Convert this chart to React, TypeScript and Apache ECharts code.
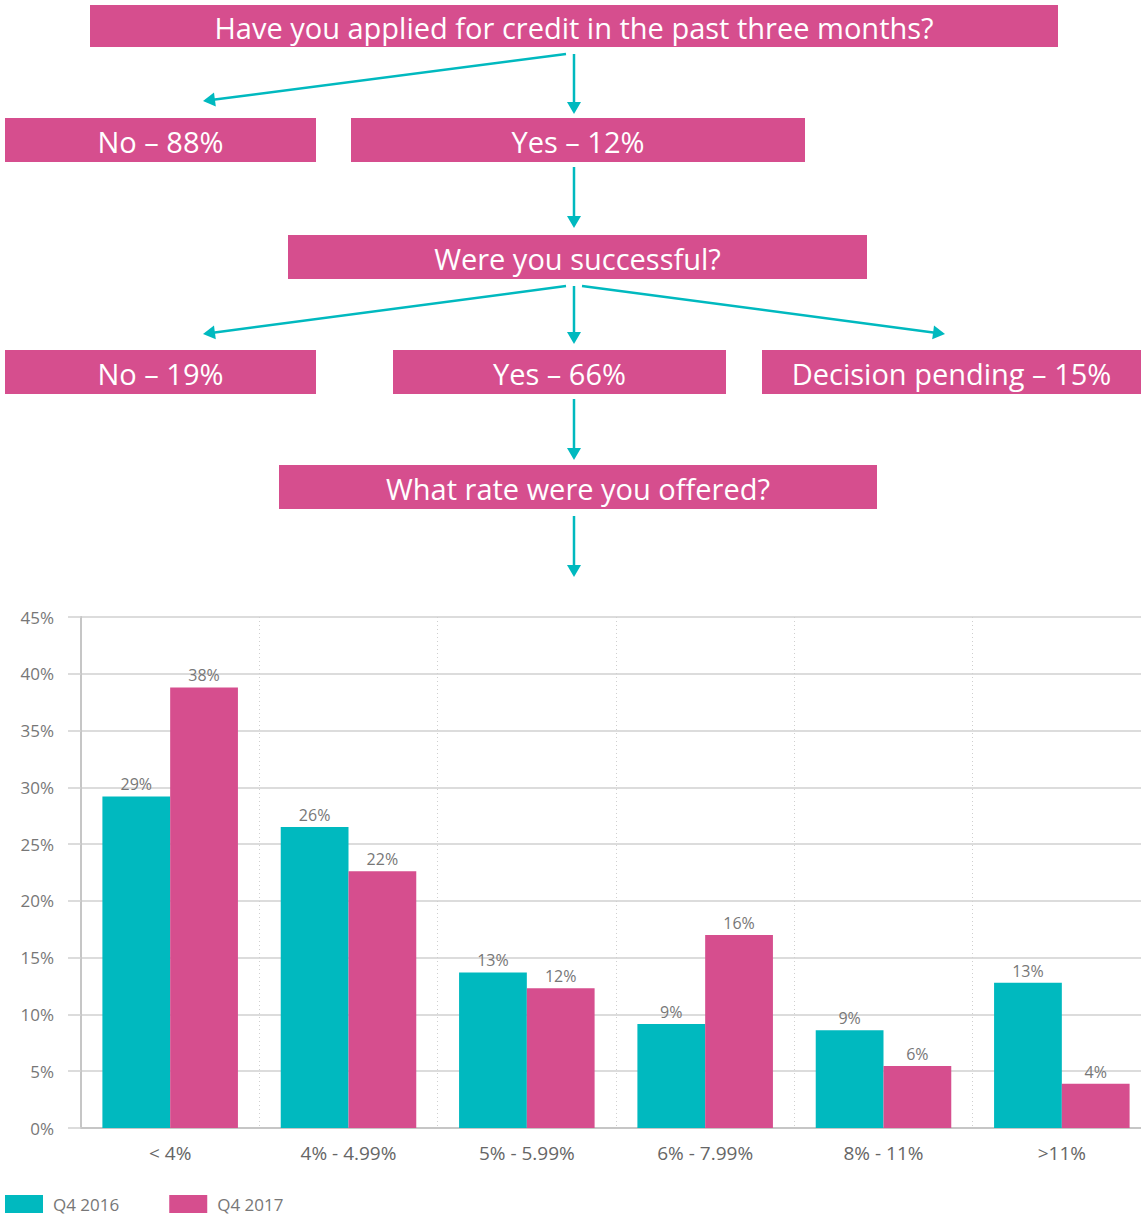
import React, { useEffect, useRef } from "react";
import * as echarts from "echarts";

const categories = ["< 4%", "4% - 4.99%", "5% - 5.99%", "6% - 7.99%", "8% - 11%", ">11%"];
const seriesNames = ["Q4 2016", "Q4 2017"];
const q42016 = [29.2, 26.5, 13.7, 9.15, 8.6, 12.8];
const q42017 = [38.8, 22.6, 12.3, 17.0, 5.45, 3.9];
const q42016Labels = ["29%", "26%", "13%", "9%", "9%", "13%"];
const q42017Labels = ["38%", "22%", "12%", "16%", "6%", "4%"];
const yTicks = [0, 5, 10, 15, 20, 25, 30, 35, 40, 45];

const flowTexts = [
  "Have you applied for credit in the past three months?",
  "No – 88%",
  "Yes – 12%",
  "Were you successful?",
  "No – 19%",
  "Yes – 66%",
  "Decision pending – 15%",
  "What rate were you offered?",
];

const PINK = "#d64e8e";
const TEAL = "#00b9bf";
const FONT = "'Open Sans', Lato, sans-serif";

const boxLayout = [
  { x: 90, y: 5, w: 968, h: 42 },
  { x: 5, y: 118, w: 311, h: 44 },
  { x: 351, y: 118, w: 454, h: 44 },
  { x: 288, y: 235, w: 579, h: 44 },
  { x: 5, y: 350, w: 311, h: 44 },
  { x: 393, y: 350, w: 333, h: 44 },
  { x: 762, y: 350, w: 379, h: 44 },
  { x: 279, y: 465, w: 598, h: 44 },
];

const arrowLayout = [
  [566, 54, 203, 101],
  [574, 54, 574, 114],
  [574, 167, 574, 228],
  [566, 286, 203, 334],
  [574, 286, 574, 344],
  [582, 286, 945, 334],
  [574, 399, 574, 460],
  [574, 516, 574, 577],
];

function arrow(x1: number, y1: number, x2: number, y2: number) {
  const dx = x2 - x1;
  const dy = y2 - y1;
  const len = Math.sqrt(dx * dx + dy * dy);
  const ux = dx / len;
  const uy = dy / len;
  const hl = 12;
  const hw = 7;
  const bx = x2 - ux * hl;
  const by = y2 - uy * hl;
  return [
    {
      type: "line",
      shape: { x1, y1, x2: bx + ux * 2, y2: by + uy * 2 },
      style: { stroke: TEAL, lineWidth: 2.5 },
    },
    {
      type: "polygon",
      shape: {
        points: [
          [x2, y2],
          [bx - uy * hw, by + ux * hw],
          [bx + uy * hw, by - ux * hw],
        ],
      },
      style: { fill: TEAL },
    },
  ];
}

export default function App() {
  const ref = useRef<HTMLDivElement>(null);
  useEffect(() => {
    if (!ref.current) return;
    const chart = echarts.init(ref.current, undefined, { renderer: "svg" });

    const graphics: any[] = [];
    boxLayout.forEach((b, i) => {
      graphics.push({
        type: "rect",
        shape: { x: b.x, y: b.y, width: b.w, height: b.h },
        style: { fill: PINK },
      });
      graphics.push({
        type: "text",
        x: b.x + b.w / 2,
        y: b.y + b.h / 2 + 1,
        style: {
          text: flowTexts[i],
          fill: "#ffffff",
          font: `400 29px ${FONT}`,
          align: "center",
          verticalAlign: "middle",
        },
      });
    });
    arrowLayout.forEach((a) => {
      graphics.push(...arrow(a[0], a[1], a[2], a[3]));
    });

    chart.setOption({
      animation: false,
      graphic: graphics,
      legend: {
        left: 5,
        top: 1195,
        padding: 0,
        itemWidth: 38,
        itemHeight: 18,
        itemGap: 50,
        icon: "rect",
        textStyle: { color: "#777", fontSize: 17, lineHeight: 18, fontFamily: FONT, padding: [0, 0, 0, 5] },
        data: seriesNames,
      },
      grid: { left: 81, top: 617, width: 1070, height: 511, containLabel: false },
      xAxis: {
        type: "category",
        data: categories,
        axisLine: { lineStyle: { color: "#c6c6c6", width: 2 } },
        axisTick: { show: false },
        axisLabel: { color: "#666", fontSize: 19, fontFamily: FONT, margin: 15 },
        splitLine: { show: true, lineStyle: { color: "#cfcfcf", type: [1, 3], width: 1 } },
      },
      yAxis: {
        type: "value",
        min: 0,
        max: 45,
        interval: 5,
        axisLine: { show: true, lineStyle: { color: "#c6c6c6", width: 2 } },
        axisTick: { show: true, length: 13, lineStyle: { color: "#d0d0d0", width: 1.5 } },
        axisLabel: {
          color: "#777",
          fontSize: 17,
          fontFamily: FONT,
          margin: 27,
          formatter: (v: number) => (yTicks.includes(v) ? `${v}%` : ""),
        },
        splitLine: { show: true, lineStyle: { color: "#d0d0d0", width: 1.5 } },
      },
      series: [
        {
          name: seriesNames[0],
          type: "bar",
          data: q42016,
          barGap: "0%",
          barCategoryGap: "24%",
          itemStyle: { color: TEAL },
          label: {
            show: true,
            position: "top",
            distance: 4,
            color: "#777",
            fontSize: 16,
            fontFamily: FONT,
            formatter: (p: any) => q42016Labels[p.dataIndex],
          },
        },
        {
          name: seriesNames[1],
          type: "bar",
          data: q42017,
          barGap: "0%",
          barCategoryGap: "24%",
          itemStyle: { color: PINK },
          label: {
            show: true,
            position: "top",
            distance: 4,
            color: "#777",
            fontSize: 16,
            fontFamily: FONT,
            formatter: (p: any) => q42017Labels[p.dataIndex],
          },
        },
      ],
    });
    return () => chart.dispose();
  }, []);
  return (
    <div
      style={{ position: "absolute", left: 0, top: 0, width: 1141, height: 1214, overflow: "hidden", background: "#fff" }}
    >
      <div ref={ref} style={{ width: 1160, height: 1214 }} />
    </div>
  );
}
